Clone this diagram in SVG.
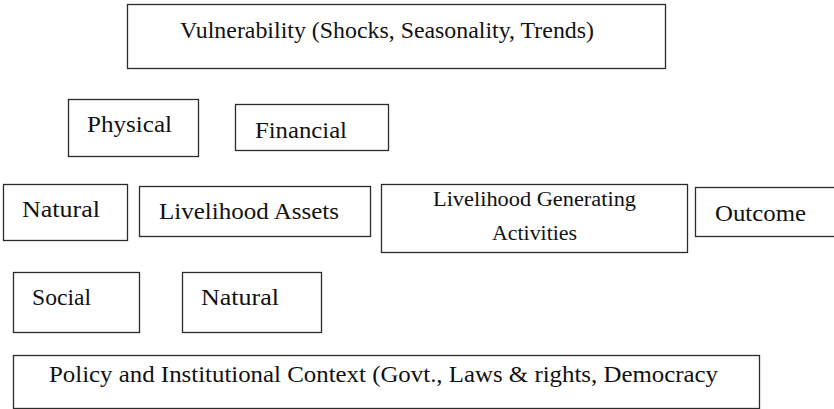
<svg xmlns="http://www.w3.org/2000/svg" width="834" height="409" viewBox="0 0 834 409">
  <style>
    .box { fill: #ffffff; stroke: #2b2b2b; stroke-width: 1.3; }
    text { fill: #111111; }
  </style>
  <rect width="834" height="409" fill="#ffffff"/>

  <g id="vulnerability">
    <rect class="box" x="127.5" y="4.5" width="538" height="64"/>
    <text font-family="Liberation Serif, serif" font-size="23" x="180" y="38" textLength="414" lengthAdjust="spacingAndGlyphs">Vulnerability (Shocks, Seasonality, Trends)</text>
  </g>

  <g id="physical">
    <rect class="box" x="68.5" y="99.5" width="130" height="57"/>
    <text font-family="Liberation Serif, serif" font-size="23" x="87" y="132" textLength="85" lengthAdjust="spacingAndGlyphs">Physical</text>
  </g>

  <g id="financial">
    <rect class="box" x="235.5" y="104.5" width="153" height="46"/>
    <text font-family="Liberation Serif, serif" font-size="23" x="255" y="138" textLength="92" lengthAdjust="spacingAndGlyphs">Financial</text>
  </g>

  <g id="natural-1">
    <rect class="box" x="3.5" y="184.5" width="124" height="56"/>
    <text font-family="Liberation Serif, serif" font-size="23" x="22" y="217" textLength="78" lengthAdjust="spacingAndGlyphs">Natural</text>
  </g>

  <g id="livelihood-assets">
    <rect class="box" x="139.5" y="186.5" width="231" height="50"/>
    <text font-family="Liberation Serif, serif" font-size="23" x="159" y="219" textLength="180" lengthAdjust="spacingAndGlyphs">Livelihood Assets</text>
  </g>

  <g id="livelihood-activities">
    <rect class="box" x="381.5" y="184.5" width="306" height="68"/>
    <text font-family="Liberation Serif, serif" font-size="20" x="433" y="206" textLength="203" lengthAdjust="spacingAndGlyphs">Livelihood Generating</text>
    <text font-family="Liberation Serif, serif" font-size="20" x="492" y="240" textLength="85" lengthAdjust="spacingAndGlyphs">Activities</text>
  </g>

  <g id="outcome">
    <rect class="box" x="695.5" y="187.5" width="142" height="49"/>
    <text font-family="Liberation Serif, serif" font-size="23" x="715" y="221" textLength="91" lengthAdjust="spacingAndGlyphs">Outcome</text>
  </g>

  <g id="social">
    <rect class="box" x="13.5" y="272.5" width="126" height="60"/>
    <text font-family="Liberation Serif, serif" font-size="23" x="32" y="305" textLength="59" lengthAdjust="spacingAndGlyphs">Social</text>
  </g>

  <g id="natural-2">
    <rect class="box" x="182.5" y="272.5" width="139" height="60"/>
    <text font-family="Liberation Serif, serif" font-size="23" x="201" y="305" textLength="78" lengthAdjust="spacingAndGlyphs">Natural</text>
  </g>

  <g id="policy-context">
    <rect class="box" x="13.5" y="355.5" width="746" height="53"/>
    <text font-family="Liberation Serif, serif" font-size="23" x="49" y="382" textLength="669" lengthAdjust="spacingAndGlyphs">Policy and Institutional Context (Govt., Laws &amp; rights, Democracy</text>
  </g>

  <g id="connectors"></g>
</svg>
